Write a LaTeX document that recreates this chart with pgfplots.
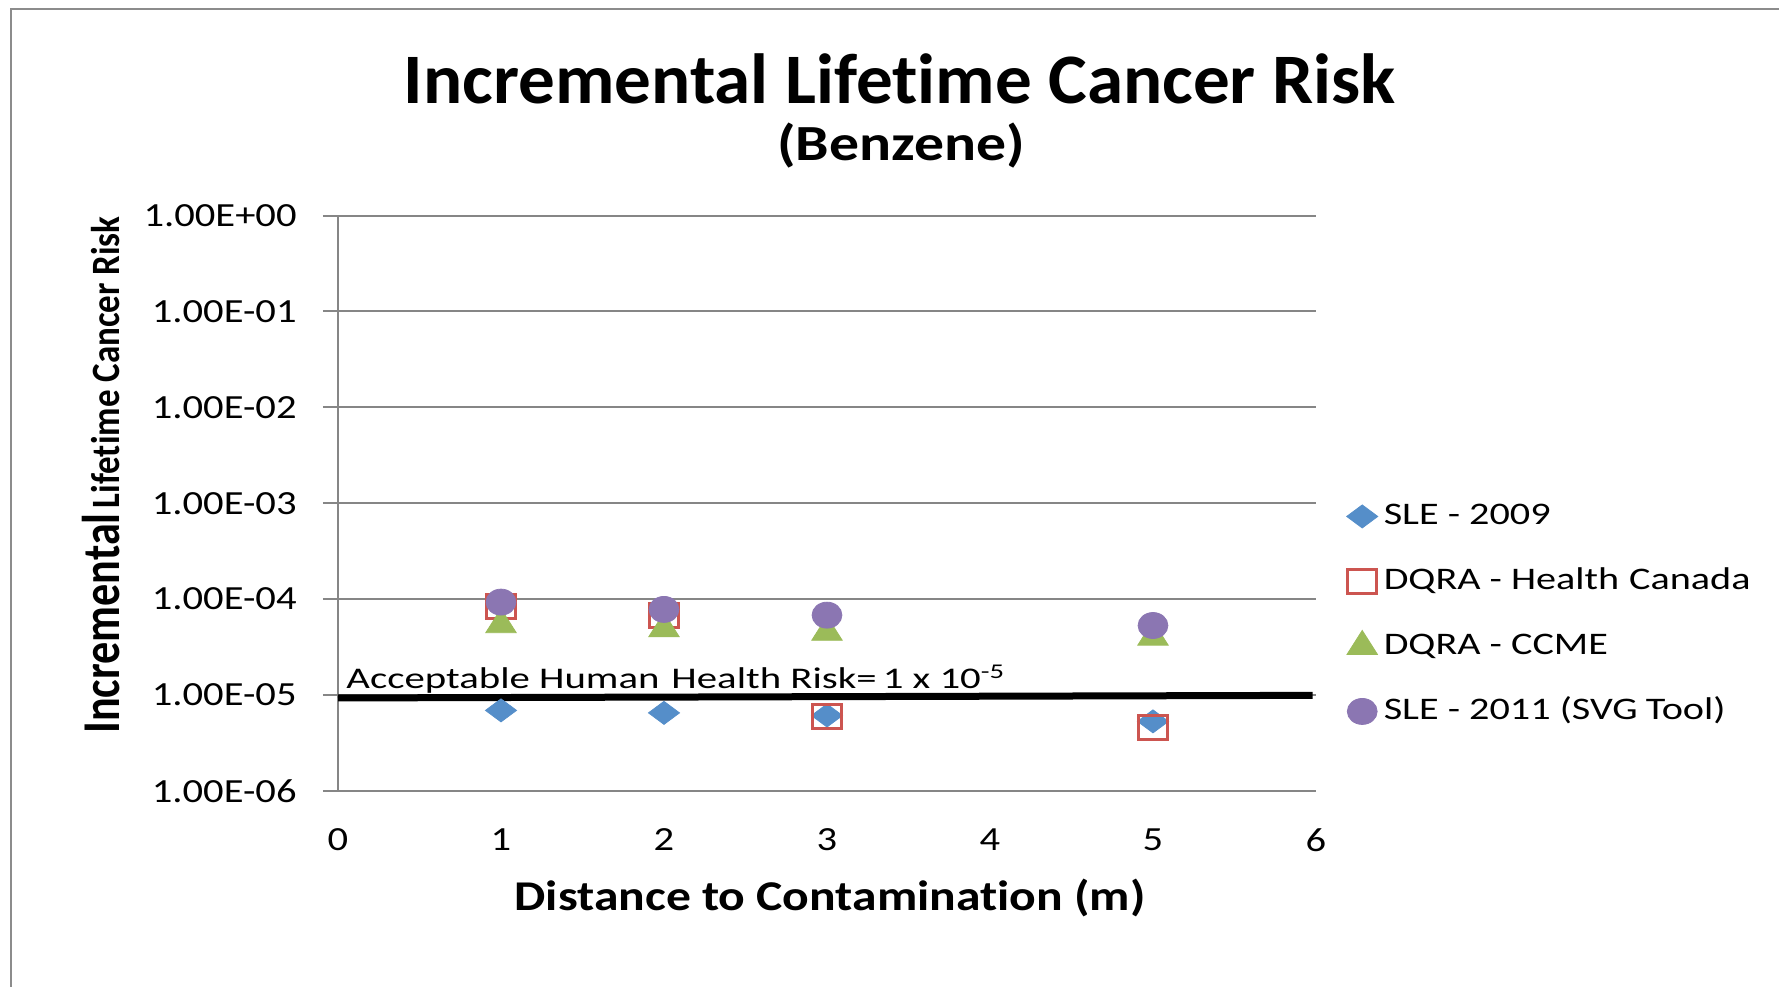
\documentclass[border=0pt]{standalone}
\usepackage{fontspec}
\setmainfont{Carlito}[Ligatures={NoCommon,NoContextual}]
\usepackage{pgfplots}
\pgfplotsset{compat=1.18}
\newfontfamily\tickfont[FakeStretch=1.2,Ligatures={NoCommon,NoContextual}]{Carlito}
\newfontfamily\titlefont[FakeStretch=1.03,Ligatures={NoCommon,NoContextual}]{Carlito}
\newfontfamily\subfont[FakeStretch=1.18,Ligatures={NoCommon,NoContextual}]{Carlito}
\newfontfamily\xlabfont[FakeStretch=1.17,Ligatures={NoCommon,NoContextual}]{Carlito}
\newfontfamily\legfont[FakeStretch=1.28,Ligatures={NoCommon,NoContextual}]{Carlito}
\newfontfamily\annfont[FakeStretch=1.36,Ligatures={NoCommon,NoContextual}]{Carlito}
\newfontfamily\ylabA[FakeStretch=0.83,Ligatures={NoCommon,NoContextual}]{Carlito}
\newfontfamily\ylabB[FakeStretch=0.87,Ligatures={NoCommon,NoContextual}]{Carlito}
\definecolor{cblue}{RGB}{85,142,201}
\definecolor{cred}{RGB}{204,85,80}
\definecolor{cgreen}{RGB}{155,187,89}
\definecolor{cpurple}{RGB}{139,118,178}
\definecolor{gridgrey}{RGB}{134,134,134}
\definecolor{framegrey}{RGB}{140,140,140}
\begin{document}
\begin{tikzpicture}
\useasboundingbox (0pt,0pt) rectangle (889.5pt,493pt);
\draw[framegrey, line width=1pt] (5.5pt,-20pt) -- (5.5pt,488.5pt) -- (920pt,488.5pt);
\node[anchor=base, inner sep=0pt] at (450pt,441pt) {\titlefont\bfseries\fontsize{35.5}{40}\selectfont Incremental Lifetime Cancer Risk};
\node[anchor=base, inner sep=0pt] at (450.5pt,412.5pt) {\subfont\bfseries\fontsize{25.3}{28}\selectfont (Benzene)};
\node[anchor=base, inner sep=0pt] at (415pt,37.7pt) {\xlabfont\bfseries\fontsize{21.2}{24}\selectfont Distance to Contamination (m)};
\node[anchor=base west, inner sep=0pt, rotate=90] at (59.5pt,126pt) {{\ylabA\bfseries\fontsize{26.6}{28}\selectfont Incremental}\hspace{2.5pt}{\ylabB\bfseries\fontsize{20.1}{22}\selectfont Lifetime Cancer Risk}};
\node[anchor=base west, inner sep=0pt] at (173pt,148.5pt) {\annfont\fontsize{15}{17}\selectfont Acceptable Human\hspace{6pt}Health Risk=\hspace{3pt}1 x 10\textsuperscript{-5}};
\begin{axis}[
  at={(169pt,97.6pt)}, anchor=south west,
  width=489pt, height=287.6pt, scale only axis,
  xmin=0, xmax=6, ymin=1e-6, ymax=1,
  ymode=log,
  axis x line*=bottom, axis y line*=left,
  axis line style={draw=gridgrey, line width=1pt, -},
  ymajorgrids, grid style={draw=gridgrey, line width=1pt},
  xtick={0,1,2,3,4,5,6}, xticklabels={0,1,2,3,4,5,6},
  ytick={1e-6,1e-5,1e-4,1e-3,1e-2,1e-1,1},
  yticklabels={1.00E-06,1.00E-05,1.00E-04,1.00E-03,1.00E-02,1.00E-01,1.00E+00},
  yminorticks=false,
  tick align=outside, major tick length=7.5pt,
  ytick style={draw=gridgrey, line width=1pt},
  xtick style={draw=none},
  yticklabel style={font=\tickfont\fontsize{16.9}{18}\selectfont, inner sep=0pt, xshift=-13pt},
  xticklabel style={font=\tickfont\fontsize{16.9}{18}\selectfont, inner sep=0pt, yshift=-11.3pt},
  legend cell align=left,
  legend style={at={(1.031,0.5055)}, anchor=north west, draw=none, fill=none,
    font=\legfont\fontsize{15.7}{18}\selectfont, row sep=16.5pt, inner sep=0pt,
    nodes={inner sep=0pt, text height=12pt, text depth=4pt},
    /tikz/every odd column/.append style={column sep=3pt}},
]
\addplot[black, line width=3.5pt, forget plot] coordinates {(0,9.3e-6) (5.98,9.9e-6)};
\addplot[only marks, mark=diamond*, mark size=5.75pt, mark options={xscale=1.8, fill=cblue, draw=cblue}]
  coordinates {(1,6.9e-6) (2,6.5e-6) (3,6.1e-6) (5,5.3e-6)};
\addlegendentry{SLE - 2009}
\addplot[only marks, mark=square, mark size=6pt, mark options={xscale=1.2, draw=cred, line width=1.5pt}]
  coordinates {(1,8.3e-5) (2,6.8e-5) (3,5.9e-6) (5,4.6e-6)};
\addlegendentry{DQRA - Health\hspace{5pt}Canada}
\addplot[only marks, mark=triangle*, mark size=8pt, mark options={xscale=1.1, fill=cgreen, draw=cgreen}]
  coordinates {(1,5.4e-5) (2,4.9e-5) (3,4.5e-5) (5,4.0e-5)};
\addlegendentry{DQRA - CCME}
\addplot[only marks, mark=*, mark size=6.5pt, mark options={xscale=1.15, fill=cpurple, draw=cpurple}]
  coordinates {(1,9.3e-5) (2,7.8e-5) (3,6.8e-5) (5,5.3e-5)};
\addlegendentry{SLE - 2011 (SVG\hspace{4pt}Tool)}
\end{axis}
\end{tikzpicture}
\end{document}
